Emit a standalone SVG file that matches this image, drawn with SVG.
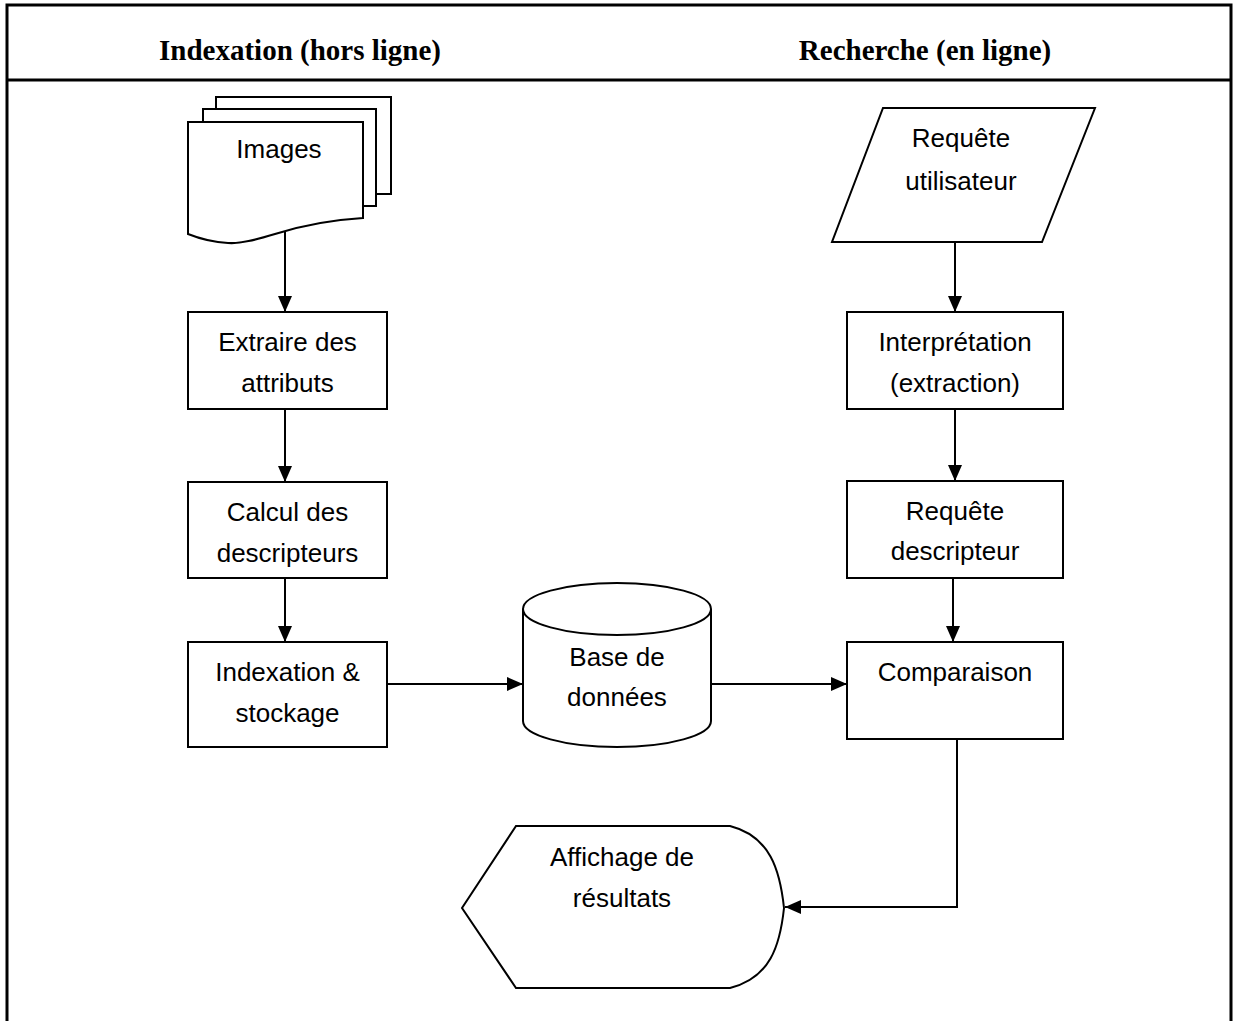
<svg xmlns="http://www.w3.org/2000/svg" width="1236" height="1021" viewBox="0 0 1236 1021">
<style>
.shape{fill:#fff;stroke:#000;stroke-width:2}
.lbl{font-family:"Liberation Sans",Arial,sans-serif;font-size:26px;fill:#000;text-anchor:middle}
.hdr{font-family:"Liberation Serif","Times New Roman",serif;font-size:29px;font-weight:bold;fill:#000;text-anchor:middle}
.con{fill:none;stroke:#000;stroke-width:2}
</style>
<defs>
<marker id="arr" markerWidth="16" markerHeight="14" refX="16" refY="7" orient="auto" markerUnits="userSpaceOnUse">
<path d="M0,0 L16,7 L0,14 Z" fill="#000"/>
</marker>
</defs>
<rect width="1236" height="1021" fill="#fff"/>
<g id="frame">
<path d="M7,1021 V5 H1231 V1021" fill="none" stroke="#000" stroke-width="3"/>
<line x1="7" y1="80" x2="1231" y2="80" stroke="#000" stroke-width="3"/>
<text class="hdr" x="300" y="60">Indexation (hors ligne)</text>
<text class="hdr" x="925" y="60">Recherche (en ligne)</text>
</g>
<g id="images">
<path class="shape" d="M216,97 H391 V194 H216 Z"/>
<path class="shape" d="M203,109 H376 V206 H203 Z"/>
<path class="shape" d="M188,122 H363 V218 C330,220 300,226 275,234 C255,240 240,244 228,243 C210,242 198,238 188,234 Z"/>
<text class="lbl" x="279" y="158">Images</text>
</g>
<g id="extraire">
<rect class="shape" x="188" y="312" width="199" height="97"/>
<text class="lbl" x="287.5" y="351">Extraire des</text>
<text class="lbl" x="287.5" y="392">attributs</text>
</g>
<g id="calcul">
<rect class="shape" x="188" y="482" width="199" height="96"/>
<text class="lbl" x="287.5" y="521">Calcul des</text>
<text class="lbl" x="287.5" y="562">descripteurs</text>
</g>
<g id="indexation">
<rect class="shape" x="188" y="642" width="199" height="105"/>
<text class="lbl" x="287.5" y="681">Indexation &amp;</text>
<text class="lbl" x="287.5" y="722">stockage</text>
</g>
<g id="base">
<path class="shape" d="M523,609 A94,26 0 0 1 711,609 V721 A94,26 0 0 1 523,721 Z"/>
<path class="shape" d="M523,609 A94,26 0 0 0 711,609" fill="none"/>
<text class="lbl" x="617" y="666">Base de</text>
<text class="lbl" x="617" y="706">données</text>
</g>
<g id="requete-utilisateur">
<path class="shape" d="M883,108 H1095 L1042,242 H832 Z"/>
<text class="lbl" x="961" y="147">Requête</text>
<text class="lbl" x="961" y="190">utilisateur</text>
</g>
<g id="interpretation">
<rect class="shape" x="847" y="312" width="216" height="97"/>
<text class="lbl" x="955" y="351">Interprétation</text>
<text class="lbl" x="955" y="392">(extraction)</text>
</g>
<g id="requete-descripteur">
<rect class="shape" x="847" y="481" width="216" height="97"/>
<text class="lbl" x="955" y="520">Requête</text>
<text class="lbl" x="955" y="560">descripteur</text>
</g>
<g id="comparaison">
<rect class="shape" x="847" y="642" width="216" height="97"/>
<text class="lbl" x="955" y="681">Comparaison</text>
</g>
<g id="affichage">
<path class="shape" d="M516,826 H730 C770,836 780,870 784,908 C780,946 770,978 730,988 H516 L462,908 Z"/>
<text class="lbl" x="622" y="866">Affichage de</text>
<text class="lbl" x="622" y="907">résultats</text>
</g>
<g id="connectors">
<line class="con" x1="285" y1="232" x2="285" y2="312" marker-end="url(#arr)"/>
<line class="con" x1="285" y1="409" x2="285" y2="482" marker-end="url(#arr)"/>
<line class="con" x1="285" y1="578" x2="285" y2="642" marker-end="url(#arr)"/>
<line class="con" x1="387" y1="684" x2="523" y2="684" marker-end="url(#arr)"/>
<line class="con" x1="711" y1="684" x2="847" y2="684" marker-end="url(#arr)"/>
<line class="con" x1="955" y1="242" x2="955" y2="312" marker-end="url(#arr)"/>
<line class="con" x1="955" y1="409" x2="955" y2="481" marker-end="url(#arr)"/>
<line class="con" x1="953" y1="578" x2="953" y2="642" marker-end="url(#arr)"/>
<path class="con" d="M957,739 V907 H785" marker-end="url(#arr)"/>
</g>
</svg>
